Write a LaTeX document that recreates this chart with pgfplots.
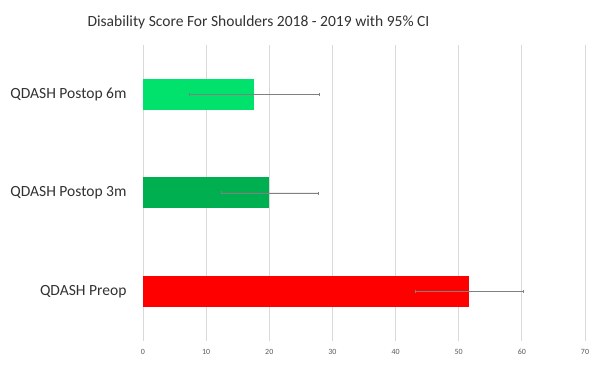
\documentclass[border=0pt]{standalone}
\usepackage{pgfplots}
\pgfplotsset{compat=1.18}
\usepackage{fontspec}
\setmainfont{Carlito}
\definecolor{g6}{RGB}{0,226,108}
\definecolor{g3}{RGB}{0,176,80}
\definecolor{gridc}{RGB}{217,217,217}
\definecolor{txt}{RGB}{50,50,50}
\definecolor{tick}{RGB}{89,89,89}
\definecolor{errc}{RGB}{128,128,128}
\begin{document}
\begin{tikzpicture}
\useasboundingbox (0,0) rectangle (596bp,366bp);
\node[font=\fontsize{15.6}{18}\selectfont, text=txt] at (258.5bp,344bp) {Disability Score For Shoulders 2018 - 2019 with 95\% CI};
\begin{axis}[
  at={(143bp,25bp)}, anchor=south west,
  scale only axis, width=442bp, height=296bp,
  xbar, bar width=31bp, bar shift=0pt,
  xmin=0, xmax=70, ymin=-0.5, ymax=2.5,
  xtick={0,10,...,70},
  ytick={0,1,2},
  yticklabels={QDASH Preop, QDASH Postop 3m, QDASH Postop 6m},
  axis line style={draw=none},
  major tick length=0pt,
  xmajorgrids, grid style={gridc, line width=0.8pt},
  x tick label style={font=\fontsize{8}{9}\selectfont, text=tick, yshift=-5bp},
  y tick label style={font=\fontsize{15.6}{18}\selectfont, text=txt, xshift=-13bp},
  /pgf/number format/assume math mode=true,
  error bars/error bar style={errc, line width=0.8pt},
  error bars/error mark options={rotate=90, mark size=1.5bp, errc, line width=0.6pt},
]
\addplot[draw=none, fill=g6, error bars/.cd, x dir=both, x explicit]
  coordinates {(17.6,2) += (10.3,0) -= (10.2,0)};
\addplot[draw=none, fill=g3, error bars/.cd, x dir=both, x explicit]
  coordinates {(20.0,1) += (7.75,0) -= (7.55,0)};
\addplot[draw=none, fill=red, error bars/.cd, x dir=both, x explicit]
  coordinates {(51.65,0) += (8.55,0) -= (8.55,0)};
\end{axis}
\end{tikzpicture}
\end{document}
